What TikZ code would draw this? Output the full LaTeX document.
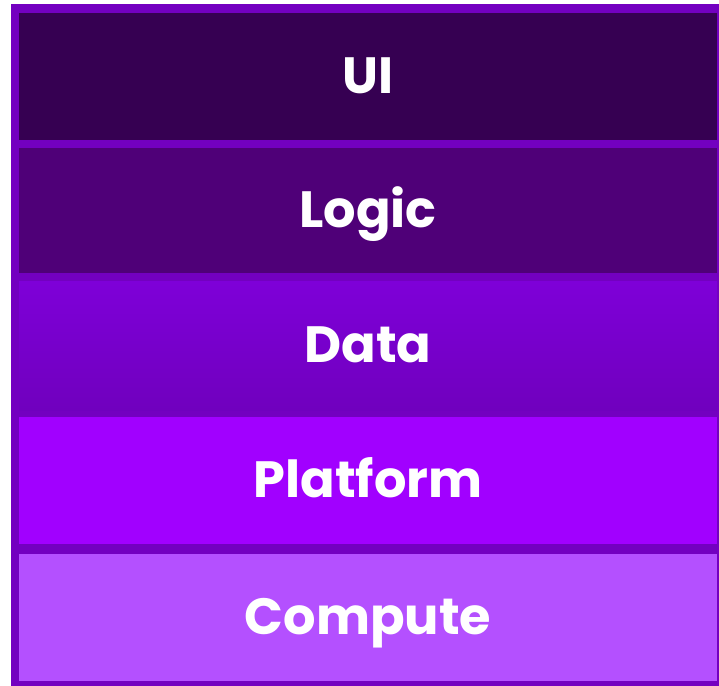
\documentclass[tikz,border=0pt]{standalone}
\usepackage{fontspec}
\setmainfont{Poppins}
\usepackage{tikz}
\definecolor{rim}{RGB}{115,0,192}
\definecolor{uicol}{RGB}{54,0,82}
\definecolor{logiccol}{RGB}{79,0,120}
\definecolor{datatop}{RGB}{126,0,216}
\definecolor{databot}{RGB}{112,0,190}
\definecolor{platcol}{RGB}{161,0,255}
\definecolor{compcol}{RGB}{180,80,255}
\tikzset{layer/.style={rectangle, inner sep=0pt, minimum width=698pt, minimum height=127pt,
  text=white, text height=33pt, text depth=0pt, font=\fontsize{51}{51}\selectfont\bfseries}}

\begin{document}
\begin{tikzpicture}[x=1pt,y=-1pt]
  \useasboundingbox (0,0) rectangle (719,685);
  \fill[white] (0,0) rectangle (719,685);
  \fill[rim] (11,4) rectangle (721,686);
  \node[layer, fill=uicol] (ui) at (368,76.5) {UI};
  \node[layer, fill=logiccol, minimum height=125pt] (logic) at (368,210.5) {Logic};
  \node[layer, minimum height=129pt, top color=datatop, bottom color=databot] (data) at (368,345.5) {Data};
  \node[layer, fill=platcol] (platform) at (368,480.5) {Platform};
  \node[layer, fill=compcol] (compute) at (368,617.5) {Compute};
\end{tikzpicture}
\end{document}
